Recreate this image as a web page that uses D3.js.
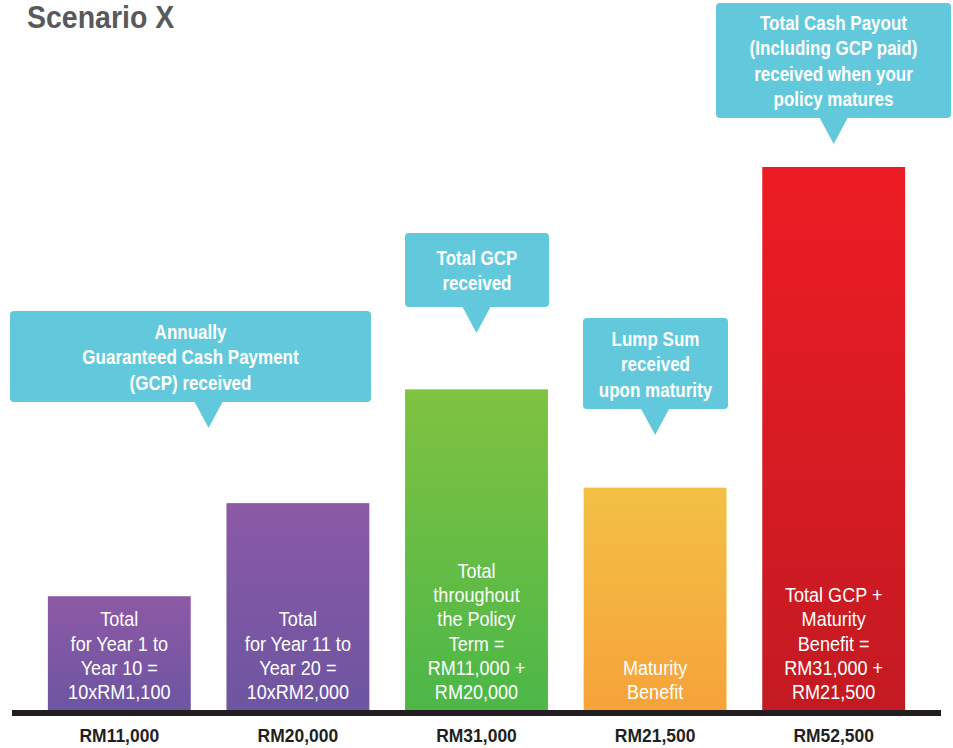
<!DOCTYPE html>
<html>
<head>
<meta charset="utf-8">
<script src="https://cdn.jsdelivr.net/npm/d3@7"></script>
<style>
  body { margin: 0; background: #fff; }
  svg text { font-family: "Liberation Sans", Arial, sans-serif; }
</style>
</head>
<body>
<script>
let title = "Scenario X";

let categories = ["a", "b", "c", "d", "e"];
let values = [11000, 20000, 31000, 21500, 52500];
let valueLabels = ["RM11,000", "RM20,000", "RM31,000", "RM21,500", "RM52,500"];
let barNotes = [
    ["Total", "for Year 1 to", "Year 10 =", "10xRM1,100"],
    ["Total", "for Year 11 to", "Year 20 =", "10xRM2,000"],
    ["Total", "throughout", "the Policy", "Term =", "RM11,000 +", "RM20,000"],
    ["Maturity", "Benefit"],
    ["Total GCP +", "Maturity", "Benefit =", "RM31,000 +", "RM21,500"]
];
let barColors = [
    ["#8d59a6", "#6d55a1"],
    ["#8b59a6", "#6d55a1"],
    ["#80c241", "#4cb748"],
    ["#f3c045", "#f6a33a"],
    ["#ed1c24", "#c31a22"]
];

// callouts: which bar(s) they point at, and the text
let calloutLines = [
    ["Annually", "Guaranteed Cash Payment", "(GCP) received"],
    ["Total GCP", "received"],
    ["Lump Sum", "received", "upon maturity"],
    ["Total Cash Payout", "(Including GCP paid)", "received when your", "policy matures"]
];
let calloutTargets = [[0, 1], [2], [3], [4]];

let svgWidth = 953,
    svgHeight = 748,
    baseY = 710;

let calloutBoxes = [
    {x0: 10, x1: 371, y0: 311, y1: 402},
    {x0: 405, x1: 549, y0: 233, y1: 307},
    {x0: 583, x1: 728, y0: 318, y1: 409},
    {x0: 716, x1: 951, y0: 3, y1: 118}
];

let svg = d3.select("body").append("svg")
    .attr("width", svgWidth)
    .attr("height", svgHeight);

let x = d3.scaleBand()
    .domain(categories)
    .range([30, 923])
    .paddingInner(0.2)
    .paddingOuter(0.1);

let y = d3.scaleLinear()
    .domain([0, 52500])
    .range([baseY, 167]);

// condensed look: squeeze the text horizontally
function narrowText(parent, px, py, str, size, weight, fill, sx, anchor) {
    return parent.append("text")
        .attr("transform", "translate(" + px + "," + py + ") scale(" + sx + ",1)")
        .attr("text-anchor", anchor || "middle")
        .attr("font-size", size)
        .attr("font-weight", weight)
        .attr("fill", fill)
        .text(str);
}

let defs = svg.append("defs");
barColors.forEach((c, i) => {
    let g = defs.append("linearGradient")
        .attr("id", "grad" + i)
        .attr("x1", 0).attr("y1", 0)
        .attr("x2", 0).attr("y2", 1);
    g.append("stop").attr("offset", "0%").attr("stop-color", c[0]);
    g.append("stop").attr("offset", "100%").attr("stop-color", c[1]);
});

// title
narrowText(svg, 27, 28, title, 31, "bold", "#58595b", 0.92, "start");

// bars
svg.selectAll("rect.bar")
    .data(values)
    .enter()
    .append("rect")
    .attr("class", "bar")
    .attr("x", (d, i) => x(categories[i]))
    .attr("y", d => y(d))
    .attr("width", x.bandwidth())
    .attr("height", d => baseY - y(d))
    .attr("fill", (d, i) => "url(#grad" + i + ")");

// text inside bars, bottom aligned
barNotes.forEach((lines, i) => {
    let cx = x(categories[i]) + x.bandwidth() / 2;
    let n = lines.length;
    lines.forEach((line, j) => {
        narrowText(svg, cx, baseY - 11 - (n - 1 - j) * 24.2, line, 21, "normal", "#fff", 0.86);
    });
});

// baseline
svg.append("line")
    .attr("x1", 12)
    .attr("x2", 941)
    .attr("y1", baseY + 3)
    .attr("y2", baseY + 3)
    .attr("stroke", "#231f20")
    .attr("stroke-width", 6);

// value labels under the axis
valueLabels.forEach((d, i) => {
    narrowText(svg, x(categories[i]) + x.bandwidth() / 2, 742, d, 19, "bold", "#231f20", 0.92);
});

// callouts
calloutLines.forEach((lines, i) => {
    let b = calloutBoxes[i];
    let t = calloutTargets[i];
    let tipX;
    if (t.length > 1) {
        tipX = (x(categories[t[0]]) + x.bandwidth() + x(categories[t[1]])) / 2;
    } else {
        tipX = x(categories[t[0]]) + x.bandwidth() / 2;
    }
    let g = svg.append("g");
    g.append("rect")
        .attr("x", b.x0)
        .attr("y", b.y0)
        .attr("width", b.x1 - b.x0)
        .attr("height", b.y1 - b.y0)
        .attr("rx", 4)
        .attr("fill", "#62c9dc");
    g.append("path")
        .attr("d", "M" + (tipX - 14.5) + "," + (b.y1 - 1) + "L" + (tipX + 14.5) + "," + (b.y1 - 1) + "L" + tipX + "," + (b.y1 + 26) + "Z")
        .attr("fill", "#62c9dc");
    let cx = (b.x0 + b.x1) / 2;
    let h = b.y1 - b.y0;
    let n = lines.length;
    let top = b.y0 + h / 2 - (n - 1) * 25.5 / 2;
    lines.forEach((line, j) => {
        narrowText(g, cx, top + j * 25.5 + 7.5, line, 21, "bold", "#fff", 0.81);
    });
});
</script>
</body>
</html>
